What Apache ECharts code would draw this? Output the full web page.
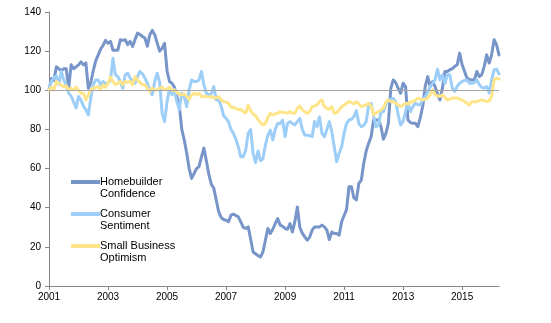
<!DOCTYPE html>
<html>
<head>
<meta charset="utf-8">
<script src="https://cdn.jsdelivr.net/npm/echarts@6/dist/echarts.min.js"></script>
<style>
  html, body { margin: 0; padding: 0; background: #fff; }
  #chart { width: 551px; height: 323px; }
</style>
</head>
<body>
<div id="chart"></div>
<script>
// monthly index values, Jan 2001 = 100, Jan 2001 .. Apr 2016
var startYear = 2001;

var homebuilder = [
  100, 106, 105, 112, 111, 110, 111, 111, 101, 113, 111, 112,
  113, 114.5, 113, 114, 101, 104, 110, 115, 118, 121, 123, 125.5,
  124, 125, 120.5, 120.5, 120.5, 125.8, 125.5, 125.8, 123.3, 125, 122.4, 126,
  129.2, 128.5, 127.5, 126.7, 122.5, 128.4, 130.6, 128.4, 124.1, 120, 121.5, 124,
  110, 104.5, 103.6, 101.5, 96.8, 92, 80, 74.6, 68, 60, 55, 57.5,
  60, 61, 66, 70.5, 64, 57, 52, 50, 44, 38, 35, 34,
  33.6, 32.8, 36.2, 36.7, 36, 35.3, 32.8, 30, 29.4, 30.2, 24, 17.4,
  16.5, 15.5, 14.8, 17.4, 23.4, 29.4, 26.8, 29, 31.9, 34.5, 31.1, 30.5,
  29.4, 29, 31.9, 27.6, 33, 40.4, 30, 27, 25.1, 23.4, 25, 28.5,
  30.2, 30.2, 30.2, 31.1, 30.2, 28.5, 23.7, 27.6, 26.8, 26.8, 26, 32.8,
  36, 39, 50.7, 50.7, 45, 44, 52.4, 54.1, 62.7, 69, 73, 76.3,
  84.8, 84.8, 84.8, 81.4, 75, 78, 83.1, 101, 105.3, 104, 101, 98.5,
  103.6, 101.9, 84.8, 83.5, 83.1, 83.1, 81.4, 86, 92, 102, 107, 101.9,
  104.5, 101.9, 98, 95.1, 101.1, 109.6, 109.6, 110.5, 111, 112.2, 113, 119,
  113, 109.6, 106.2, 105.5, 105.3, 105.3, 109.6, 107, 108, 112.2, 118.1, 113.9,
  118.1, 125.8, 123.3, 118.1
];

var consumer = [
  100.6, 104.5, 106.2, 107.4, 103, 109.6, 105.3, 102.5, 98.5, 97, 94, 91,
  96.8, 95, 92, 90, 87.4, 96, 103, 105.3, 105.3, 102.8, 104.5, 103,
  104, 105, 116.4, 108, 107, 104.5, 101.1, 107.9, 108.7, 106.2, 104.5, 103.6,
  107, 109.6, 108.4, 106.2, 103.6, 100, 97.7, 104.5, 108.7, 104, 88.3, 84,
  94, 101.1, 97.7, 100.2, 94.2, 90, 98.5, 96.8, 91.7, 100.2, 105.3, 104.5,
  104.5, 105.3, 109.6, 102.8, 98.5, 97.7, 98.2, 101.9, 95.1, 95, 92, 87,
  85.7, 84, 80, 78, 75, 71, 66, 66, 69.5, 78, 80, 67.8,
  63, 69, 64, 65, 72, 77, 79.7, 74.6, 80, 83, 83, 84.8,
  76.3, 83.1, 84, 83, 82.3, 84, 85.6, 80, 77.1, 77, 76.8, 76.3,
  84, 81.4, 86.4, 78, 76.3, 80, 84, 79, 71.2, 63.5, 67.8, 71.2,
  78, 83, 84.8, 85.2, 86.6, 89.6, 83, 81.4, 82, 84, 92.5, 93.3,
  87, 81.4, 82.3, 89.1, 89, 93, 95.1, 95.5, 95.9, 94.2, 87.4, 82.3,
  84, 89.1, 93.3, 89.1, 91.7, 93.4, 92.6, 92.6, 95.1, 96.8, 99, 101.9,
  103.5, 105.3, 110.8, 105.3, 107.9, 103.6, 107.9, 107.9, 101.1, 99.4, 102, 103.6,
  104.5, 105, 105.3, 103.6, 103.6, 104, 105.3, 102.8, 101.5, 101.1, 101.9, 98.6,
  105.3, 110.4, 110.8, 108.4
];

var smallBusiness = [
  100, 101.6, 100.2, 104.5, 103.5, 102.8, 101.6, 102.3, 100.2, 101.1, 100.2, 101.6,
  100, 98.5, 98.5, 95.1, 97.7, 100.2, 101.1, 101.5, 101.9, 100.2, 102.8, 101.6,
  103.6, 106.7, 104.5, 102.8, 103.6, 104.5, 102.8, 104.5, 104, 104.5, 102.8, 107,
  105.3, 104, 102.8, 102.8, 101.1, 99.4, 101.1, 100.2, 100.2, 101.1, 101.6, 100.2,
  100.6, 101.6, 99.9, 100.2, 98.9, 98, 97.7, 98.2, 96.8, 95.4, 97.7, 98.5,
  97.7, 98.5, 96.8, 96.8, 96.8, 96.5, 96.8, 96, 96.3, 96.8, 95.1, 94.2,
  94, 93.4, 91.3, 91.3, 90.8, 90, 90.3, 89, 88.5, 92.5, 89.5, 88,
  87, 85, 83.5, 82.3, 83, 86, 88.3, 87.4, 87.9, 88.3, 89.1, 88.6,
  88.6, 88.3, 89.1, 88.3, 88.3, 90.8, 92, 90, 89.1, 88.3, 89.1, 91.7,
  92, 92.5, 94.2, 95, 91.7, 90.8, 90.3, 91.7, 88.3, 88.5, 90, 91.5,
  92.5, 93.4, 94.2, 93.8, 93, 94.2, 93, 91.7, 92, 92.5, 93.4, 92,
  87.4, 88.5, 89.1, 90, 91, 94, 95.1, 94.2, 94.2, 93.4, 92.5, 91.7,
  92.5, 93.4, 93, 94, 94.2, 95, 96, 95.5, 95.1, 95.5, 96, 97.7,
  100.2, 97.7, 97.2, 96.8, 97.7, 96.5, 95.1, 95.5, 96, 96, 96, 95.5,
  95.1, 94.2, 93.4, 92.5, 94.2, 94.2, 94.2, 94.7, 95.1, 94.7, 94.2, 94.5,
  96.8, 105.3, 106.2, 105.7
];

var seriesNames = ['Homebuilder Confidence', 'Consumer Sentiment', 'Small Business Optimism'];
// the empty first line puts the key line level with the first text line
var legendLabels = ['\nHomebuilder\nConfidence', '\nConsumer\nSentiment', '\nSmall Business\nOptimism'];
var seriesColors = ['#7795C9', '#9DCEF7', '#FFE58A'];

var font = 'Liberation Sans, Arial, sans-serif';

// one category per month, labelled "YYYY-MM"
var months = [];
for (var y = startYear; months.length < homebuilder.length; y++) {
  for (var m = 1; m <= 12 && months.length < homebuilder.length; m++) {
    months.push(y + '-' + (m < 10 ? '0' + m : m));
  }
}

function lineSeries(idx, data) {
  return {
    name: seriesNames[idx],
    type: 'line',
    data: data,
    symbol: 'none',
    z: 3,
    lineStyle: { color: seriesColors[idx], width: 3, join: 'round', cap: 'round' },
    itemStyle: { color: seriesColors[idx] }
  };
}

var chart = echarts.init(document.getElementById('chart'));
chart.setOption({
  animation: false,
  grid: { left: 49, right: 52, top: 12, bottom: 37 },
  legend: {
    orient: 'vertical',
    left: 71,
    top: 164,
    padding: 0,
    itemGap: -4,
    itemWidth: 29,
    itemHeight: 4,
    icon: 'rect',
    data: seriesNames,
    formatter: function (name) {
      return legendLabels[seriesNames.indexOf(name)];
    },
    textStyle: {
      fontFamily: font,
      fontSize: 11,
      color: '#000',
      lineHeight: 12,
      padding: [0, 0, 0, -5]
    }
  },
  xAxis: {
    type: 'category',
    data: months,
    boundaryGap: false,
    axisLine: { lineStyle: { color: '#868686', width: 1 } },
    axisTick: { interval: 23, length: 4, lineStyle: { color: '#868686' } },
    axisLabel: {
      interval: 23,
      margin: 6,
      color: '#000',
      fontFamily: font,
      fontSize: 10,
      formatter: function (v) { return v.split('-')[0]; }
    },
    splitLine: { show: false }
  },
  yAxis: {
    type: 'value',
    min: 0,
    max: 140,
    interval: 20,
    axisLine: { show: true, lineStyle: { color: '#868686', width: 1 } },
    axisTick: { show: true, length: 4, lineStyle: { color: '#868686' } },
    axisLabel: { margin: 8, color: '#000', fontFamily: font, fontSize: 10 },
    splitLine: { show: false }
  },
  series: [
    {
      // reference line at 100, kept under the data lines
      name: 'base',
      type: 'line',
      data: [],
      z: 1,
      silent: true,
      markLine: {
        silent: true,
        symbol: 'none',
        label: { show: false },
        lineStyle: { color: '#A6A6A6', width: 1, type: 'solid' },
        data: [{ yAxis: 100 }]
      }
    },
    lineSeries(0, homebuilder),
    lineSeries(1, consumer),
    lineSeries(2, smallBusiness)
  ]
});
</script>
</body>
</html>
